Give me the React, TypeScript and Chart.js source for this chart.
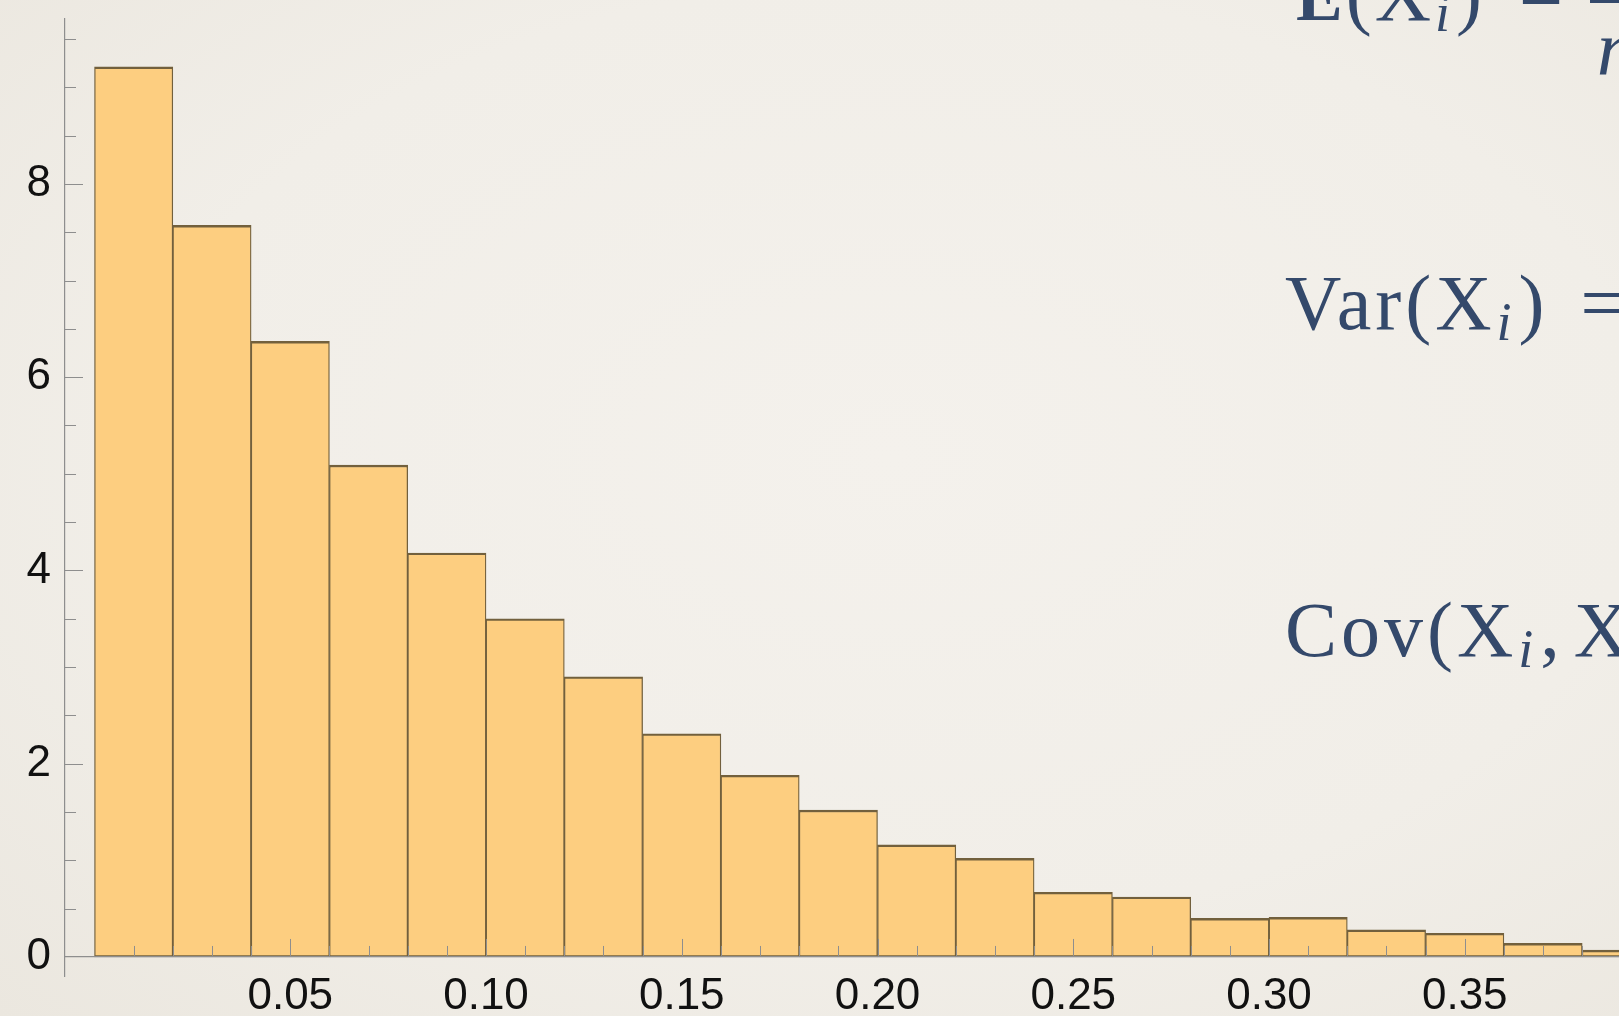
import React, { useEffect, useRef } from "react";
import { Chart, registerables } from "chart.js";

Chart.register(...registerables);

// Histogram: left edge of each bin and its probability density
const binStarts = [0.0, 0.02, 0.04, 0.06, 0.08, 0.1, 0.12, 0.14, 0.16, 0.18, 0.2, 0.22, 0.24, 0.26, 0.28, 0.3, 0.32, 0.34, 0.36, 0.38];
const binWidth = 0.02;
const densities = [9.21, 7.57, 6.37, 5.09, 4.18, 3.5, 2.9, 2.31, 1.88, 1.52, 1.16, 1.02, 0.67, 0.62, 0.4, 0.41, 0.28, 0.245, 0.14, 0.07];

// Labelled ticks and the spacing of the small unlabelled ones
const xTickValues = [0.05, 0.1, 0.15, 0.2, 0.25, 0.3, 0.35];
const yTickValues = [0, 2, 4, 6, 8];
const xMinorStep = 0.01;
const yMinorStep = 0.5;
const xMajorEvery = 5;
const yMajorEvery = 4;

// Plot ranges (with a little padding the way the axes are drawn)
const xRange = [-0.00754, 0.3894];
const yRange = [-0.197, 9.706];

const BAR_FILL = "#fdce80";
const BAR_EDGE = "#72603d";
const AXIS_GRAY = "#8e8e8e";
const INK = "#34496b";
const TICK_FONT = '"Liberation Sans", Arial, sans-serif';
const MATH_FONT = '"Liberation Serif", "DejaVu Serif", serif';

// Tick marks point into the plot, drawn over the bars
const inwardTicks = {
  id: "inwardTicks",
  afterDatasetsDraw(chart: any) {
    const { ctx } = chart;
    const xs = chart.scales.x;
    const ys = chart.scales.y;
    const y0 = ys.getPixelForValue(0);
    const axisX = xs.left;
    ctx.save();
    ctx.strokeStyle = AXIS_GRAY;
    ctx.lineWidth = 1;
    ctx.beginPath();
    for (let k = 1; k * xMinorStep <= xRange[1]; k++) {
      const px = Math.round(xs.getPixelForValue(k * xMinorStep)) + 0.5;
      const len = k % xMajorEvery === 0 ? 18 : 11;
      ctx.moveTo(px, y0);
      ctx.lineTo(px, y0 - len);
    }
    for (let k = 1; k * yMinorStep <= yRange[1]; k++) {
      const py = Math.round(ys.getPixelForValue(k * yMinorStep)) + 0.5;
      const len = k % yMajorEvery === 0 ? 18 : 11;
      ctx.moveTo(axisX, py);
      ctx.lineTo(axisX + len, py);
    }
    ctx.stroke();
    ctx.restore();
  },
};

function HistogramChart() {
  const canvasRef = useRef<HTMLCanvasElement | null>(null);

  useEffect(() => {
    const canvas = canvasRef.current;
    if (!canvas) return;
    const points = binStarts.map((s, i) => ({ x: s + binWidth / 2, y: densities[i] }));
    const chart = new Chart(canvas, {
      type: "bar",
      data: {
        datasets: [
          {
            data: points as any,
            backgroundColor: BAR_FILL,
            borderColor: BAR_EDGE,
            borderWidth: { top: 2.4, right: 1.3, bottom: 2, left: 1.3 } as any,
            borderSkipped: false,
            barPercentage: 1,
            categoryPercentage: 1,
          },
        ],
      },
      options: {
        animation: false,
        responsive: false,
        layout: { padding: { top: 19, bottom: 40, left: 0, right: 0 } },
        plugins: { legend: { display: false }, tooltip: { enabled: false } },
        scales: {
          x: {
            type: "linear",
            position: { y: 0 } as any,
            min: xRange[0],
            max: xRange[1],
            offset: false,
            grid: { display: false, drawTicks: false },
            border: { display: true, color: AXIS_GRAY, width: 1.2, z: 1 },
            afterBuildTicks: (scale: any) => {
              scale.ticks = xTickValues.map((v) => ({ value: v }));
            },
            afterFit: (scale: any) => {
              scale.paddingLeft = 0;
              scale.paddingRight = 0;
            },
            ticks: {
              autoSkip: false,
              maxRotation: 0,
              padding: 13,
              color: "#111",
              font: { family: TICK_FONT, size: 44 },
              callback: (v: any) => Number(v).toFixed(2),
            },
          },
          y: {
            type: "linear",
            position: "left",
            min: yRange[0],
            max: yRange[1],
            grid: { display: false, drawTicks: false },
            border: { display: true, color: AXIS_GRAY, width: 1.2 },
            afterBuildTicks: (scale: any) => {
              scale.ticks = yTickValues.map((v) => ({ value: v }));
            },
            afterFit: (scale: any) => {
              scale.width = 65;
              scale.paddingTop = 0;
              scale.paddingBottom = 0;
            },
            ticks: {
              autoSkip: false,
              padding: 14,
              color: "#111",
              font: { family: TICK_FONT, size: 44 },
              callback: (v: any) => String(v),
            },
          },
        },
      },
      plugins: [inwardTicks],
    });
    return () => chart.destroy();
  }, []);

  return (
    <canvas
      ref={canvasRef}
      width={1619}
      height={1016}
      style={{ position: "absolute", left: 0, top: 0, display: "block" }}
    />
  );
}

const lineStyle = (left: number, top: number, spacing = 4): React.CSSProperties => ({
  position: "absolute",
  left,
  top,
  fontFamily: MATH_FONT,
  fontSize: 78,
  lineHeight: "78px",
  letterSpacing: spacing,
  color: INK,
  whiteSpace: "nowrap",
});

const subI: React.CSSProperties = {
  fontStyle: "italic",
  fontSize: 54,
  lineHeight: 0,
  position: "relative",
  top: 11,
  marginLeft: 1,
  marginRight: 3,
};

function Formulas() {
  return (
    <>
      <div style={lineStyle(1296, -45, 3)}>
        <span style={{ fontWeight: "bold", fontSize: 70 }}>E</span>(X<span style={subI}>i</span>)
        <span style={{ marginLeft: 34 }}>=</span>
      </div>
      <div
        style={{
          position: "absolute",
          left: 1590,
          top: 0,
          width: 60,
          height: 3,
          background: INK,
        }}
      />
      <div style={{ ...lineStyle(1606, -82), fontSize: 70 }}>1</div>
      <div style={{ ...lineStyle(1597, 10), fontStyle: "italic" }}>n</div>
      <div style={lineStyle(1285, 264)}>
        Var(X<span style={subI}>i</span>)<span style={{ marginLeft: 32 }}>=</span>
      </div>
      <div style={lineStyle(1285, 591)}>
        Cov(X<span style={subI}>i</span>,<span style={{ marginLeft: 10 }}>X</span>
      </div>
    </>
  );
}

export default function App() {
  return (
    <div
      style={{
        position: "fixed",
        left: 0,
        top: 0,
        width: 1619,
        height: 1016,
        overflow: "hidden",
        background: "radial-gradient(ellipse at 55% 45%, #f4f1ec 0%, #f1eee8 60%, #ebe7df 100%)",
      }}
    >
      <HistogramChart />
      <Formulas />
    </div>
  );
}
